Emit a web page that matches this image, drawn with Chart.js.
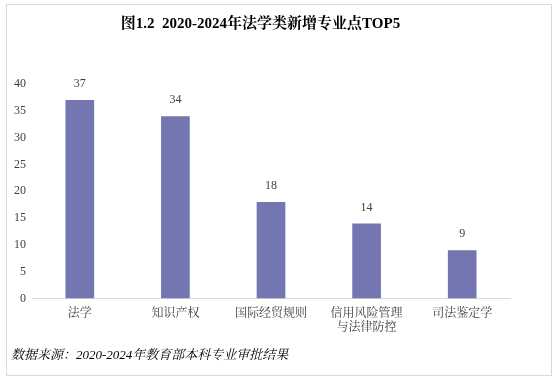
<!DOCTYPE html>
<html>
<head>
<meta charset="utf-8">
<script src="https://cdn.jsdelivr.net/npm/chart.js@4/dist/chart.umd.min.js"></script>
<style>
  html, body { margin: 0; padding: 0; background: #fff; }
  #wrap { position: relative; width: 558px; height: 382px; }
  #frame { position: absolute; left: 6px; top: 4px; width: 546px; height: 372px; border: 1px solid #d9d9d9; box-sizing: border-box; pointer-events: none; }
  canvas { position: absolute; left: 0; top: 0; }
</style>
</head>
<body>
<div id="wrap">
  <canvas id="c" width="558" height="382"></canvas>
  <div id="frame"></div>
</div>
<script>
const categories = ['法学', '知识产权', '国际经贸规则', ['信用风险管理', '与法律防控'], '司法鉴定学'];
const values = [37, 34, 18, 14, 9];
const yTicks = [0, 5, 10, 15, 20, 25, 30, 35, 40];
const titleText = '图1.2  2020-2024年法学类新增专业点TOP5';
const sourceText = '数据来源：2020-2024年教育部本科专业审批结果';

const serif = '"Liberation Serif", "Noto Serif CJK SC", "Noto Sans CJK SC", serif';

const valueLabels = {
  id: 'valueLabels',
  afterDatasetsDraw(chart) {
    const ctx = chart.ctx;
    const meta = chart.getDatasetMeta(0);
    ctx.save();
    ctx.font = '12px ' + serif;
    ctx.fillStyle = '#404040';
    ctx.textAlign = 'center';
    ctx.textBaseline = 'bottom';
    meta.data.forEach((bar, i) => {
      ctx.fillText(String(chart.data.datasets[0].data[i]), bar.x, bar.y - 10);
    });
    ctx.restore();
  }
};

new Chart(document.getElementById('c'), {
  type: 'bar',
  data: {
    labels: categories,
    datasets: [{
      data: values,
      backgroundColor: '#7376b0',
      barPercentage: 0.3,
      categoryPercentage: 1.0
    }]
  },
  options: {
    responsive: false,
    animation: false,
    devicePixelRatio: 1,
    layout: { padding: { left: 11, right: 48, top: 10, bottom: 14 } },
    plugins: {
      legend: { display: false },
      tooltip: { enabled: false },
      title: {
        display: true,
        text: titleText,
        color: '#000',
        font: { family: serif, size: 15, weight: 'bold' },
        padding: { top: 5, bottom: 51 }
      },
      subtitle: {
        display: true,
        text: sourceText,
        position: 'bottom',
        align: 'start',
        color: '#000',
        font: { family: serif, size: 13, style: 'italic' },
        padding: { top: 4, bottom: 5 }
      }
    },
    scales: {
      x: {
        grid: { display: false, drawTicks: false },
        border: { display: true, color: '#d9d9d9' },
        ticks: { color: '#404040', font: { family: serif, size: 12 }, maxRotation: 0, autoSkip: false, padding: 8 }
      },
      y: {
        min: 0,
        max: 40,
        afterBuildTicks(scale) { scale.ticks = yTicks.map(v => ({ value: v })); },
        afterFit(scale) { scale.width = 21; },
        grid: { display: false, drawTicks: false },
        border: { display: false },
        ticks: { color: '#404040', font: { family: serif, size: 12 }, padding: 6 }
      }
    }
  },
  plugins: [valueLabels]
});
</script>
</body>
</html>
